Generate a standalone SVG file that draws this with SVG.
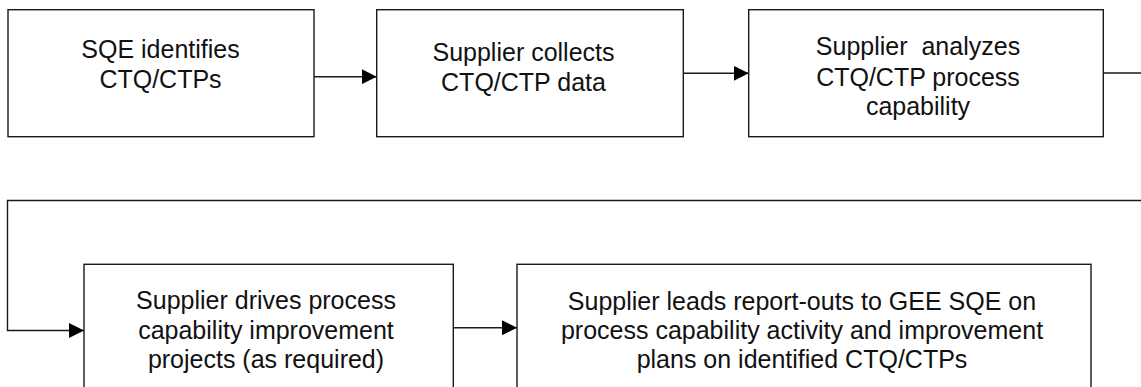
<svg xmlns="http://www.w3.org/2000/svg" width="1141" height="387" viewBox="0 0 1141 387">
<style>
.box{fill:#fff;stroke:#1a1a1a;stroke-width:1.4}
.lbl{font-family:"Liberation Sans",Arial,sans-serif;font-size:25px;fill:#111;text-anchor:middle;white-space:pre}
.con{fill:none;stroke:#1a1a1a;stroke-width:1.4}
</style>
<defs>
<marker id="arr" markerUnits="userSpaceOnUse" markerWidth="15" markerHeight="15" refX="15" refY="7.5" orient="auto">
<path d="M0,0 L15,7.5 L0,15 z" fill="#000"/>
</marker>
</defs>
<rect width="1141" height="387" fill="#fff"/>
<g id="connectors">
<path class="con" d="M314,76.7 H376.7" marker-end="url(#arr)"/>
<path class="con" d="M683.3,73.3 H748.7" marker-end="url(#arr)"/>
<path class="con" d="M1103.3,73 H1145"/>
<path class="con" d="M1145,200.5 H7.5 V330.5 H84" marker-end="url(#arr)"/>
<path class="con" d="M453.3,327.7 H517" marker-end="url(#arr)"/>
</g>
<g id="n1">
<rect class="box" x="8" y="9.7" width="306" height="127"/>
<text class="lbl" x="160.5" y="58.3">SQE identifies</text>
<text class="lbl" x="160.5" y="88.3">CTQ/CTPs</text>
</g>
<g id="n2">
<rect class="box" x="376.7" y="9.7" width="306.6" height="127"/>
<text class="lbl" x="523.5" y="61">Supplier collects</text>
<text class="lbl" x="523.5" y="90.7">CTQ/CTP data</text>
</g>
<g id="n3">
<rect class="box" x="748.7" y="9.7" width="354.6" height="127"/>
<text class="lbl" x="918" y="55">Supplier  analyzes</text>
<text class="lbl" x="918" y="85.5">CTQ/CTP process</text>
<text class="lbl" x="918" y="115">capability</text>
</g>
<g id="n4">
<rect class="box" x="84" y="264.3" width="369.3" height="140"/>
<text class="lbl" x="266" y="309">Supplier drives process</text>
<text class="lbl" x="266" y="338.5">capability improvement</text>
<text class="lbl" x="266" y="367.5">projects (as required)</text>
</g>
<g id="n5">
<rect class="box" x="517" y="264.3" width="574" height="140"/>
<text class="lbl" x="802" y="310">Supplier leads report-outs to GEE SQE on</text>
<text class="lbl" x="802" y="339">process capability activity and improvement</text>
<text class="lbl" x="802" y="368">plans on identified CTQ/CTPs</text>
</g>
</svg>
